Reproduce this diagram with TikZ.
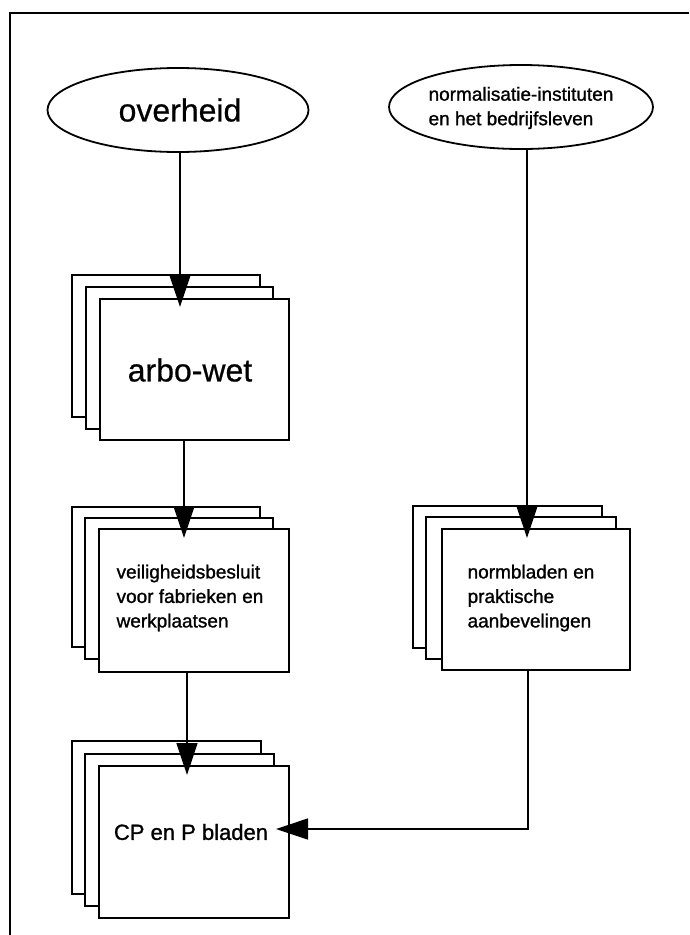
\documentclass[tikz,border=0pt]{standalone}
\usepackage{fontspec}
\setmainfont{Liberation Sans}
\newfontfamily\heavyfont[FakeBold=1.2]{Liberation Sans}
\newfontfamily\midfont[FakeBold=0.6]{Liberation Sans}
\usetikzlibrary{arrows.meta,shapes.geometric}

\begin{document}
\begin{tikzpicture}[x=1pt,y=-1pt,
  frame/.style={line width=2pt},
  sheet/.style={draw, fill=white, line width=1.8pt},
  front/.style={sheet, inner sep=0pt, anchor=north west},
  oval/.style={draw, ellipse, line width=1.8pt, inner sep=0pt},
  conn/.style={line width=1.4pt},
  arr/.style={conn, -{Triangle[length=32pt,width=21pt]}},
  lbl/.style={align=left, inner sep=0pt, font=\heavyfont\fontsize{19}{24.5}\selectfont},
  big/.style={inner sep=0pt, font=\midfont\fontsize{32}{38}\selectfont},
]
\useasboundingbox (0,0) rectangle (689,935);
\draw[frame] (10,935) -- (10,13) -- (689,13);

% sources
\node[oval, minimum width=261pt, minimum height=84pt] (overheid) at (178,110) {};
\node[big] (overheidtxt) at (180,110) {overheid};
\node[oval, minimum width=264pt, minimum height=84pt] (norminst) at (521,107) {};
\node[lbl] (norminsttxt) at (521,108) {normalisatie-instituten\\en het bedrijfsleven};

% arbo-wet stack
\draw[sheet] (72,275) rectangle (260,417);
\draw[sheet] (86,287) rectangle (273,429);
\node[front, minimum width=189pt, minimum height=141pt] (arbo) at (99,298) {};
\node[big] (arbotxt) at (190,370) {arbo-wet};

% veiligheidsbesluit stack
\draw[sheet] (72,507) rectangle (260,647);
\draw[sheet] (85,518) rectangle (273,659);
\node[front, minimum width=190pt, minimum height=143pt] (veilig) at (98,528) {};
\node[lbl] (veiligtxt) at (190,598) {veiligheidsbesluit\\voor fabrieken en\\werkplaatsen};

% normbladen stack
\draw[sheet] (413,506) rectangle (602,648);
\draw[sheet] (426,517) rectangle (616,659);
\node[front, minimum width=188pt, minimum height=141pt] (normbl) at (441,528) {};
\node[lbl] (normbltxt) at (531,598) {normbladen en\\praktische\\aanbevelingen};

% CP en P bladen stack
\draw[sheet] (72,741) rectangle (261,894);
\draw[sheet] (85,754) rectangle (274,906);
\node[front, minimum width=190pt, minimum height=152pt] (cp) at (98,765) {};
\node[inner sep=0pt, font=\heavyfont\fontsize{22}{26}\selectfont] (cptxt) at (191,832) {CP en P bladen};

% connectors
\coordinate (t1) at (180,307);
\coordinate (t2) at (184,538);
\coordinate (t3) at (187,775);
\coordinate (t4) at (527,538);
\coordinate (c5) at (528,829);
\coordinate (t5) at (276,829);
\draw[arr] (t1 |- overheid.south) -- (t1);
\draw[arr] (t2 |- arbo.south) -- (t2);
\draw[arr] (t3 |- veilig.south) -- (t3);
\draw[arr] (t4 |- norminst.south) -- (t4);
\draw[arr] (c5 |- normbl.south) -- (c5) -- (t5);
\end{tikzpicture}
\end{document}
